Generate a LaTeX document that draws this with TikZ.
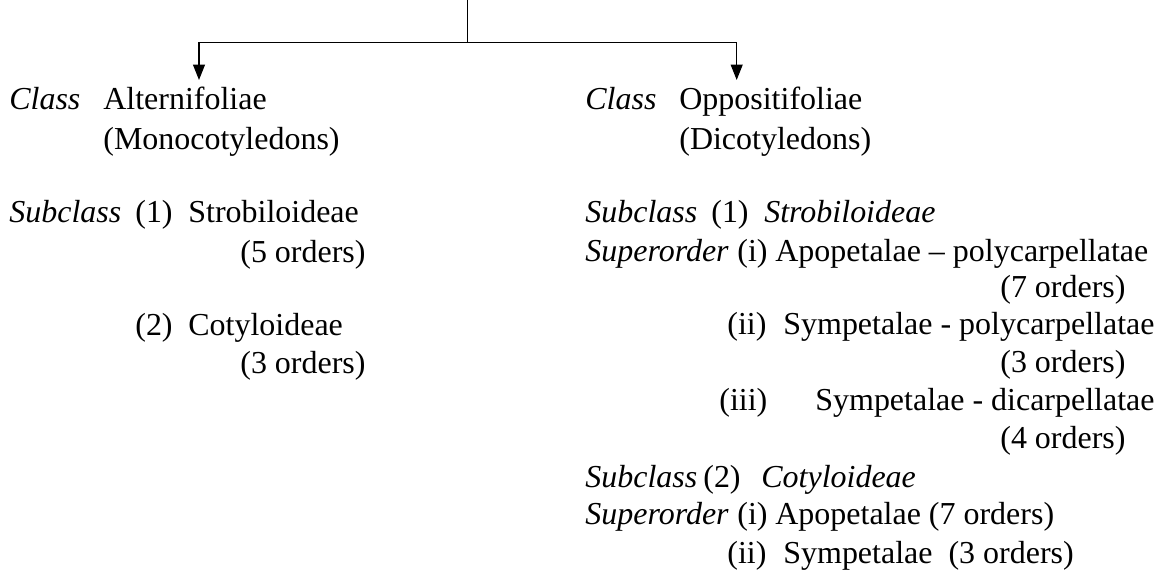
\documentclass[tikz,border=0pt]{standalone}
\usepackage{fontspec}
\setmainfont{Liberation Serif}
\usetikzlibrary{arrows.meta}

\tikzset{
  txt/.style={anchor=base west, inner sep=0pt, font=\fontsize{18.2}{21}\selectfont},
  link/.style={line width=0.75pt},
  tip/.style={link, -{Triangle[length=0.31cm, width=0.24cm]}}
}

\begin{document}
\begin{tikzpicture}[x=0.02cm, y=-0.02cm]
        \useasboundingbox (0,0) rectangle (1159,574);

        \coordinate (root) at (467.5,0);
        \coordinate (fork) at (467.5,42.7);
        \coordinate (altTip) at (199,80);
        \coordinate (oppTip) at (736.7,80);

        % Connectors
        \draw[link] (root) -- (fork);
        \draw[tip] (fork) -| (altTip);
        \draw[tip] (fork) -| (oppTip);

        % Class Alternifoliae (left)
        \node[txt] (altLbl) at (9,110) {\textit{Class}};
        \node[txt] (lSubLbl) at (9,223) {\textit{Subclass}};
        \foreach \n/\x/\y/\t in {alt/103/110/Alternifoliae, mono/103/150/(Monocotyledons),
                lOne/135/223/(1), lStrob/188/223/Strobiloideae, lStrobOrd/240/262/(5 orders),
                lTwo/135/335/(2), lCoty/188/335/Cotyloideae, lCotyOrd/240/373/(3 orders)}
            \node[txt] (\n) at (\x,\y) {\t};

        % Class Oppositifoliae (right)
        \node[txt] (oppLbl) at (585,110) {\textit{Class}};
        \node[txt] (rSubOneLbl) at (585,223) {\textit{Subclass}};
        \node[txt] (rStrob) at (764,223) {\textit{Strobiloideae}};
        \node[txt] (rSupOneLbl) at (585,261) {\textit{Superorder}};
        \node[txt] (rSubTwoLbl) at (585,487) {\textit{Subclass}};
        \node[txt] (rCoty) at (761,487) {\textit{Cotyloideae}};
        \node[txt] (rSupTwoLbl) at (585,524) {\textit{Superorder}};
        \foreach \n/\x/\y/\t in {opp/679/110/Oppositifoliae, dico/679/150/(Dicotyledons),
                rOne/711/223/(1),
                sOneI/737/261/(i), apoPoly/775/261/Apopetalae -- polycarpellatae, apoPolyOrd/1000/297/(7 orders),
                sOneII/727/334/(ii), symPoly/783/334/Sympetalae - polycarpellatae, symPolyOrd/1000/372/(3 orders),
                sOneIII/719/410/(iii), symDi/815/410/Sympetalae - dicarpellatae, symDiOrd/1000/448/(4 orders),
                rTwo/703/487/(2),
                sTwoI/737/524/(i), apo/775/524/Apopetalae (7 orders),
                sTwoII/727/563/(ii), sym/783/563/Sympetalae\ \ (3 orders)}
            \node[txt] (\n) at (\x,\y) {\t};
\end{tikzpicture}
\end{document}
